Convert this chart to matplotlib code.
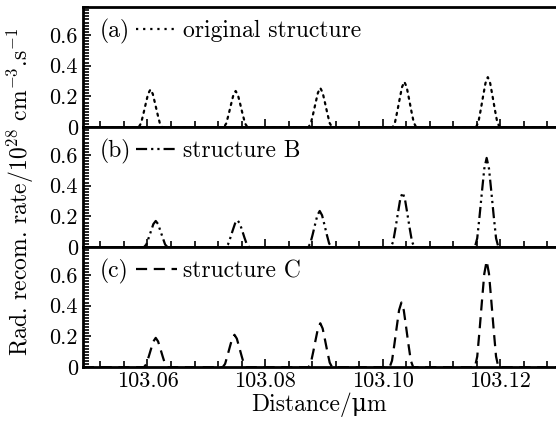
import matplotlib

matplotlib.use("Agg")
import matplotlib.pyplot as plt
from matplotlib.ticker import MultipleLocator, FuncFormatter
from matplotlib.lines import Line2D

plt.rcParams["font.family"] = ["cmr10", "DejaVu Serif"]
plt.rcParams["mathtext.fontset"] = "cm"
plt.rcParams["axes.formatter.use_mathtext"] = True

XLIM = (103.049, 103.1295)
OFFSETS = [-0.0020, -0.0016, -0.0012, -0.0008, -0.0004, 0.0,
           0.0004, 0.0008, 0.0012, 0.0016, 0.0020]

# peak centres (um)
CENTERS_A = [103.0605, 103.0750, 103.0894, 103.1037, 103.1179]
CENTERS_B = [103.0614, 103.0753, 103.0893, 103.1034, 103.1177]
CENTERS_C = [103.0614, 103.0748, 103.0894, 103.1032, 103.1177]

# recombination rate on each peak (1e28 cm^-3 s^-1)
PEAKS_A = [
    [0, .025, .086, .152, .216, .245, .216, .152, .086, .025, 0],
    [0, .024, .082, .146, .207, .235, .207, .146, .082, .024, 0],
    [0, .026, .089, .158, .224, .255, .224, .158, .089, .026, 0],
    [0, .030, .103, .183, .260, .295, .260, .183, .103, .030, 0],
    [0, .033, .114, .202, .286, .325, .286, .202, .114, .033, 0],
]
PEAKS_B = [
    [0, .017, .060, .105, .150, .170, .150, .105, .060, .017, 0],
    [0, .018, .061, .109, .154, .175, .154, .109, .061, .018, 0],
    [0, .024, .082, .146, .207, .235, .207, .146, .082, .024, 0],
    [0, .036, .124, .220, .312, .355, .312, .220, .124, .036, 0],
    [0, .058, .203, .360, .510, .580, .510, .360, .203, .058, 0],
]
PEAKS_C = [
    [0, .019, .067, .118, .167, .190, .167, .118, .067, .019, 0],
    [0, .021, .074, .130, .185, .210, .185, .130, .074, .021, 0],
    [0, .029, .100, .177, .251, .285, .251, .177, .100, .029, 0],
    [0, .042, .147, .260, .370, .420, .370, .260, .147, .042, 0],
    [0, .069, .242, .428, .607, .690, .607, .428, .242, .069, 0],
]

PANELS = [
    ("(a)", "original structure", CENTERS_A, PEAKS_A, (0, (1, 2.2))),
    ("(b)", "structure B", CENTERS_B, PEAKS_B, (0, (5, 1.8, 1, 1.8, 1, 1.8))),
    ("(c)", "structure C", CENTERS_C, PEAKS_C, (0, (5, 3))),
]

FS_TICK = 16
FS_TEXT = 17


def series(centers, peaks):
    xs, ys = [XLIM[0]], [0.0]
    for c, p in zip(centers, peaks):
        xs += [c + o for o in OFFSETS]
        ys += p
    xs.append(XLIM[1])
    ys.append(0.0)
    return xs, ys


fig = plt.figure(figsize=(5.56, 4.21), dpi=100)
gs = fig.add_gridspec(3, 1, left=0.149, right=1.0, top=0.983, bottom=0.128, hspace=0)
axes = [fig.add_subplot(gs[i]) for i in range(3)]

for i, (ax, (tag, label, centers, peaks, ls)) in enumerate(zip(axes, PANELS)):
    xs, ys = series(centers, peaks)
    ax.plot(xs, ys, color="black", lw=1.6, linestyle=ls,
            dash_capstyle="round" if i == 0 else "butt")
    ax.set_xlim(*XLIM)
    ax.set_ylim(0, 0.78)
    ax.yaxis.set_major_locator(MultipleLocator(0.2))
    ax.yaxis.set_minor_locator(MultipleLocator(0.02))
    ax.yaxis.set_major_formatter(FuncFormatter(lambda v, p: "0" if abs(v) < 1e-9 else f"{v:.1f}"))
    ax.xaxis.set_major_locator(MultipleLocator(0.02))
    ax.xaxis.set_minor_locator(MultipleLocator(0.004))
    ax.xaxis.set_major_formatter(FuncFormatter(lambda v, p: f"{v:.2f}"))
    ax.tick_params(which="both", direction="in", left=True, bottom=True,
                   right=False, top=False, labelsize=FS_TICK, width=1.2)
    ax.tick_params(which="major", length=6)
    ax.tick_params(which="minor", length=4)
    ax.spines["right"].set_visible(False)
    for s in ("left", "top", "bottom"):
        ax.spines[s].set_linewidth(2)
    if i < 2:
        ax.tick_params(labelbottom=False)
    ax.text(0.036, 0.8, tag, transform=ax.transAxes, fontsize=FS_TEXT, va="center", ha="left")
    h = Line2D([], [], color="black", lw=1.6, linestyle=ls)
    ax.legend([h], [label], loc="center left", bbox_to_anchor=(0.112, 0.8),
              frameon=False, fontsize=FS_TEXT, handlelength=1.75, handletextpad=0.25,
              borderpad=0, borderaxespad=0)

axes[2].set_xlabel("Distance/μm", fontsize=FS_TEXT, labelpad=1)
fig.text(0.036, 0.544, "Rad. recom. rate/10$^{28}$ cm$^{-3}$.s$^{-1}$",
         rotation=90, fontsize=FS_TEXT, ha="center", va="center")

fig.savefig("out.png", dpi=100, facecolor="white")
